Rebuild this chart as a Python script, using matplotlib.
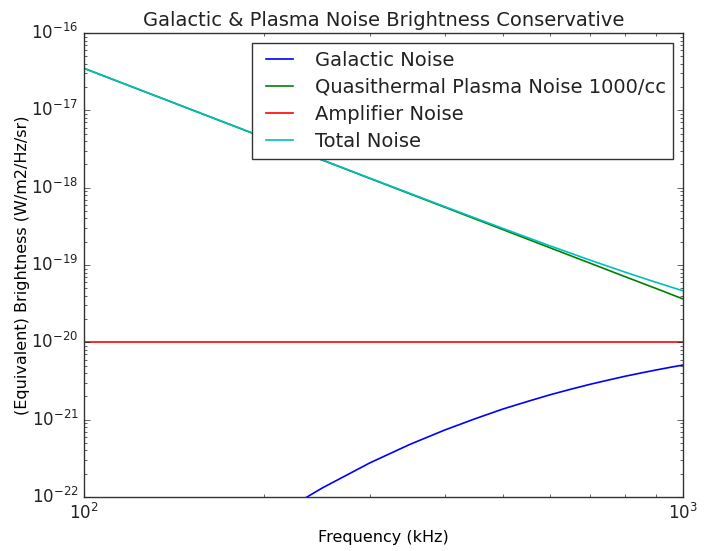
import matplotlib
matplotlib.use("Agg")
import matplotlib.pyplot as plt

# Frequencies (kHz) and brightness values (W/m2/Hz/sr)
galactic_freq = [220, 250, 300, 350, 400, 450, 500, 550, 600, 650, 700,
                 750, 800, 850, 900, 950, 1000]
galactic_noise = [7.3e-23, 1.31e-22, 2.76e-22, 4.79e-22, 7.34e-22, 1.03e-21,
                  1.37e-21, 1.72e-21, 2.10e-21, 2.48e-21, 2.87e-21, 3.25e-21,
                  3.64e-21, 4.01e-21, 4.38e-21, 4.74e-21, 5.09e-21]

plasma_freq = [100, 200, 300, 400, 500, 600, 700, 800, 900, 1000]
plasma_noise = [3.5e-17, 4.43e-18, 1.32e-18, 5.6e-19, 2.88e-19, 1.67e-19,
                1.055e-19, 7.08e-20, 5.0e-20, 3.64e-20]

amp_freq = [100, 1000]
amp_noise = [1e-20, 1e-20]

total_freq = [100, 200, 300, 400, 500, 600, 700, 800, 900, 1000]
total_noise = [3.5e-17, 4.44e-18, 1.33e-18, 5.7e-19, 2.98e-19, 1.77e-19,
               1.155e-19, 8.1e-20, 6.0e-20, 4.64e-20]

labels = ["Galactic Noise", "Quasithermal Plasma Noise 1000/cc",
          "Amplifier Noise", "Total Noise"]

plt.style.use("classic")
plt.rcParams["figure.facecolor"] = "white"
plt.rcParams["savefig.facecolor"] = "white"
plt.rcParams["axes.unicode_minus"] = False
plt.rcParams["text.color"] = "#222222"
plt.rcParams["xtick.color"] = "#222222"
plt.rcParams["ytick.color"] = "#222222"
plt.rcParams["axes.edgecolor"] = "#333333"

fig = plt.figure(figsize=(7.14, 5.51), dpi=100)
ax = fig.add_axes([0.1176, 0.098, 0.839, 0.842])

lw = 1.2
ax.loglog(galactic_freq, galactic_noise, color="b", lw=lw, label=labels[0])
ax.loglog(plasma_freq, plasma_noise, color="g", lw=lw, label=labels[1])
ax.loglog(amp_freq, amp_noise, color="r", lw=lw, label=labels[2])
ax.loglog(total_freq, total_noise, color="c", lw=lw, label=labels[3])

ax.set_xlim(100, 1000)
ax.set_ylim(1e-22, 1e-16)
ax.set_title("Galactic & Plasma Noise Brightness Conservative", fontsize=14)
ax.set_xlabel("Frequency (kHz)", fontsize=11.5)
ax.set_ylabel("(Equivalent) Brightness (W/m2/Hz/sr)", fontsize=11.5,
              labelpad=1)
ax.tick_params(labelsize=12)
ax.legend(loc="upper right", fontsize=14, labelspacing=0.42)

fig.savefig("out.png", dpi=100)
